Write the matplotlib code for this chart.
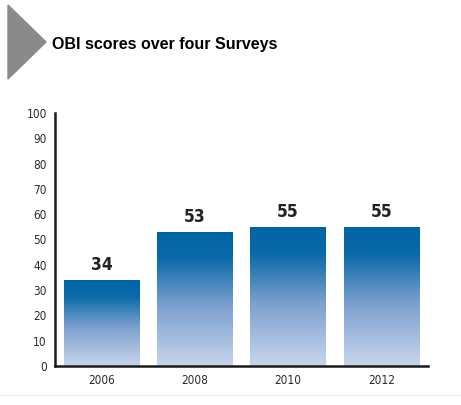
import matplotlib
matplotlib.use("Agg")
import matplotlib.pyplot as plt
from matplotlib.colors import LinearSegmentedColormap
from matplotlib.patches import Polygon
import numpy as np

years = ["2006", "2008", "2010", "2012"]
scores = [34, 53, 55, 55]
yticks = [0, 10, 20, 30, 40, 50, 60, 70, 80, 90, 100]

fig = plt.figure(figsize=(4.61, 4.05), dpi=100)
fig.patch.set_facecolor("white")

# grey arrow in the corner
tri = Polygon([[8 / 461, 1 - 5 / 405], [46 / 461, 1 - 42 / 405], [8 / 461, 1 - 79 / 405]],
              closed=True, transform=fig.transFigure, color="#8a8a8a")
fig.patches.append(tri)
fig.text(52 / 461, 1 - 45 / 405, "OBI scores over four Surveys", fontsize=11.5,
         fontweight="bold", family="Liberation Sans", va="center", ha="left")

# faint bottom rule
fig.add_artist(plt.Line2D([0.0, 1.0], [1 - 395 / 405] * 2, transform=fig.transFigure,
                          color="#eeeeee", lw=1))

ax = fig.add_axes([55 / 461, 39 / 405, 373 / 461, 253 / 405])
cmap = LinearSegmentedColormap.from_list(
    "blues", [(0.0, "#c8d5ec"), (0.45, "#7ba0ce"), (0.8, "#0b6aa9"), (1.0, "#0064a4")])
grad = np.linspace(0, 1, 256).reshape(-1, 1)

x = np.arange(len(years))
bars = ax.bar(x, scores, width=0.81, color="none", zorder=2)
for b, v in zip(bars, scores):
    im = ax.imshow(grad, extent=[b.get_x(), b.get_x() + b.get_width(), 0, v],
                   origin="lower", aspect="auto", cmap=cmap, zorder=1)
    im.set_clip_path(b)
    ax.text(b.get_x() + b.get_width() / 2, v + 2.2, str(v), ha="center", va="bottom",
            fontsize=12.5, fontweight="bold", fontstretch="condensed",
            family="DejaVu Sans", color="#222222")

ax.set_xlim(-0.5, 3.5)
ax.set_ylim(0, 100)
ax.set_xticks(x)
ax.set_xticklabels(years)
ax.set_yticks(yticks)
for lab in ax.get_xticklabels() + ax.get_yticklabels():
    lab.set_fontsize(8.5)
    lab.set_fontstretch("condensed")
    lab.set_color("#2a2a2a")
ax.tick_params(length=0, pad=6)
for s in ["top", "right"]:
    ax.spines[s].set_visible(False)
for s in ["left", "bottom"]:
    ax.spines[s].set_linewidth(1.8)
    ax.spines[s].set_color("#1a1a1a")

fig.savefig("out.png", dpi=100)
